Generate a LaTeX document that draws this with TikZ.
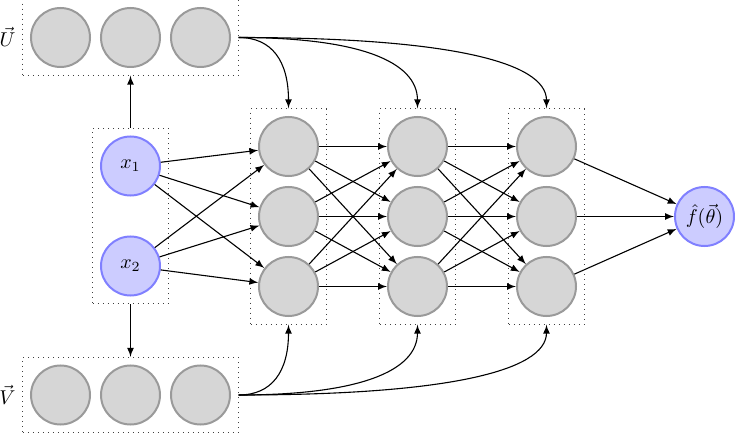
\documentclass[tikz,border=0pt]{standalone}
\usetikzlibrary{fit,arrows,calc}
\definecolor{nfill}{HTML}{D6D6D6}
\definecolor{ndraw}{HTML}{9A9A9A}
\definecolor{bfill}{HTML}{CCCCFF}
\definecolor{bdraw}{HTML}{8080FF}
\begin{document}
\begin{tikzpicture}[x=0.5pt,y=-0.5pt,
  neuron/.style={circle,fill=nfill,draw=ndraw,line width=1pt,minimum size=29.5pt,inner sep=0pt},
  ioneuron/.style={circle,fill=bfill,draw=bdraw,line width=1pt,minimum size=29.5pt,inner sep=0pt},
  group/.style={draw=black!75,dotted,line width=0.5pt,inner sep=3.6pt},
  conn/.style={-latex,line width=0.55pt},
  curveconn/.style={-latex,line width=0.55pt}]
\useasboundingbox (0,0) rectangle (735,433);
% U row
\node[neuron] (u1) at (60.5,37.5) {};
\node[neuron] (u2) at (130.5,37.5) {};
\node[neuron] (u3) at (200.5,37.5) {};
\node[group,fit=(u1)(u3)] (ubox) {};
\node (ulab) at (7.5,37) {$\vec{U}$};
% V row
\node[neuron] (v1) at (60.5,395) {};
\node[neuron] (v2) at (130.5,395) {};
\node[neuron] (v3) at (200.5,395) {};
\node[group,fit=(v1)(v3)] (vbox) {};
\node (vlab) at (7.5,395) {$\vec{V}$};
% inputs
\node[ioneuron] (x1) at (130.5,166) {$x_1$};
\node[ioneuron] (x2) at (130.5,266) {$x_2$};
\node[group,fit=(x1)(x2)] (xbox) {};
% hidden layers
\foreach \c/\xx in {1/288.5,2/417.5,3/546.5}{
  \node[neuron] (h\c1) at (\xx,146.5) {};
  \node[neuron] (h\c2) at (\xx,216.5) {};
  \node[neuron] (h\c3) at (\xx,286.5) {};
  \node[group,fit=(h\c1)(h\c3)] (c\c box) {};
}
% output
\node[ioneuron] (out) at (704.5,216.5) {$\hat{f}(\vec{\theta})$};
% vertical arrows
\draw[conn] (xbox.north) -- (ubox.south);
\draw[conn] (xbox.south) -- (vbox.north);
% input to hidden
\foreach \i in {1,2}{
  \foreach \j in {1,2,3}{
    \draw[conn] (x\i) -- (h1\j);
  }
}
% hidden to hidden
\foreach \a/\b in {1/2,2/3}{
  \foreach \i in {1,2,3}{
    \foreach \j in {1,2,3}{
      \draw[conn] (h\a\i) -- (h\b\j);
    }
  }
}
% hidden to output
\foreach \j in {1,2,3}{
  \draw[conn] (h3\j) -- (out);
}
% curved arrows
\foreach \c in {1,2,3}{
  \coordinate (uk\c) at (c\c box.north |- ubox.east);
  \coordinate (vk\c) at (c\c box.south |- vbox.east);
  \draw[curveconn] (ubox.east) .. controls ($(ubox.east)!0.667!(uk\c)$) and ($(c\c box.north)!0.667!(uk\c)$) .. (c\c box.north);
  \draw[curveconn] (vbox.east) .. controls ($(vbox.east)!0.667!(vk\c)$) and ($(c\c box.south)!0.667!(vk\c)$) .. (c\c box.south);
}
\end{tikzpicture}
\end{document}
